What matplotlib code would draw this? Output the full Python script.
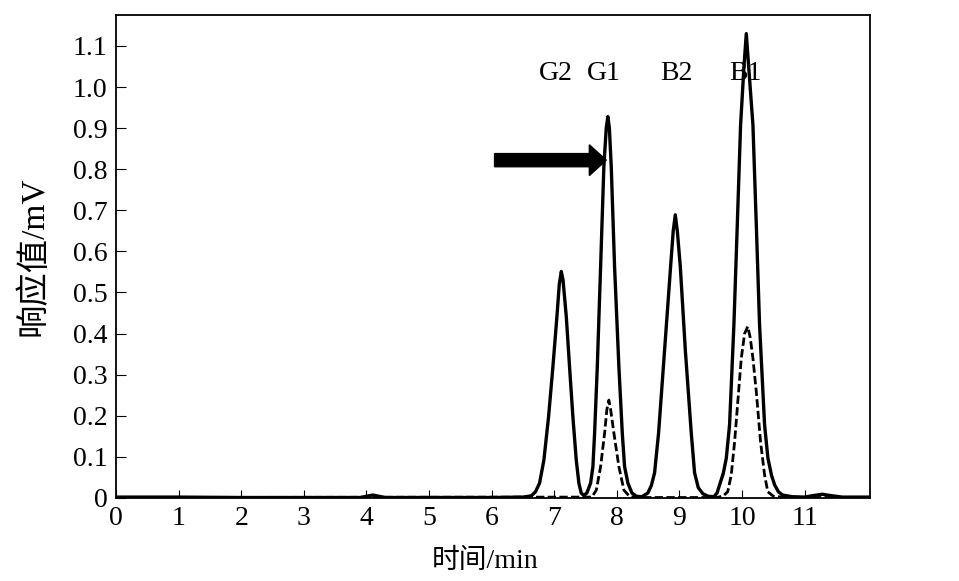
import matplotlib
matplotlib.use("Agg")
import matplotlib.pyplot as plt

plt.rcParams['font.family'] = ['Liberation Serif', 'Noto Sans CJK SC', 'DejaVu Sans']
plt.rcParams['axes.unicode_minus'] = False

# Solid trace (retention time in min, response in mV)
solid_t = [0, 1.0, 2.0, 3.0, 3.9, 4.0, 4.1, 4.2, 4.3, 5.0, 6.0, 6.5,
           6.632, 6.70, 6.765, 6.834, 6.909, 6.978, 7.042, 7.08, 7.112, 7.14, 7.192,
           7.244, 7.297, 7.351, 7.393, 7.43, 7.47,
           7.52, 7.58, 7.617, 7.644, 7.687, 7.74, 7.792, 7.83, 7.856, 7.88, 7.91,
           7.963, 8.032, 8.086, 8.123, 8.176, 8.24, 8.31, 8.40,
           8.495, 8.55, 8.602, 8.666, 8.762, 8.858, 8.90, 8.933, 8.965, 9.013, 9.093,
           9.188, 9.241, 9.30, 9.374, 9.46, 9.55,
           9.60, 9.641, 9.70, 9.748, 9.800, 9.869, 9.923, 9.976, 10.03, 10.067, 10.10,
           10.173, 10.227, 10.279, 10.359, 10.412, 10.47, 10.519, 10.58, 10.647,
           10.8, 11.0, 11.15, 11.28, 11.4, 11.6, 12.04]
solid_v = [0.002, 0.002, 0.001, 0.001, 0.001, 0.004, 0.007, 0.004, 0.001, 0.001, 0.001, 0.002,
           0.005, 0.015, 0.036, 0.092, 0.198, 0.319, 0.441, 0.52, 0.551, 0.53, 0.441,
           0.319, 0.198, 0.092, 0.036, 0.012, 0.006,
           0.012, 0.036, 0.076, 0.158, 0.319, 0.563, 0.806, 0.90, 0.928, 0.90, 0.806,
           0.563, 0.319, 0.158, 0.076, 0.036, 0.012, 0.004, 0.003,
           0.012, 0.03, 0.061, 0.158, 0.36, 0.563, 0.65, 0.689, 0.65, 0.563, 0.36,
           0.158, 0.061, 0.025, 0.010, 0.004, 0.003,
           0.012, 0.032, 0.06, 0.097, 0.178, 0.421, 0.664, 0.908, 1.05, 1.13, 1.06,
           0.908, 0.664, 0.421, 0.178, 0.097, 0.055, 0.032, 0.015, 0.007,
           0.003, 0.002, 0.006, 0.009, 0.006, 0.002, 0.002]

# Dashed trace
dashed_t = [0, 7.60, 7.671, 7.74, 7.804, 7.84, 7.872, 7.90, 7.952, 8.032, 8.112, 8.20, 8.3,
            9.6, 9.70, 9.77, 9.827, 9.88, 9.944, 9.987, 10.04, 10.09, 10.13, 10.173,
            10.227, 10.295, 10.359, 10.41, 10.5, 10.7, 12.04]
dashed_v = [0.001, 0.002, 0.019, 0.076, 0.158, 0.215, 0.238, 0.215, 0.158, 0.076, 0.019, 0.004, 0.001,
            0.001, 0.005, 0.015, 0.056, 0.136, 0.258, 0.34, 0.40, 0.417, 0.39, 0.34,
            0.258, 0.136, 0.056, 0.015, 0.004, 0.001, 0.001]

peak_names = ['G2', 'G1', 'B2', 'B1']
peak_label_t = [7.03, 7.79, 8.95, 10.05]
peak_label_v = [1.034, 1.034, 1.034, 1.034]

x_ticks = list(range(0, 12))
y_ticks = [0, 0.1, 0.2, 0.3, 0.4, 0.5, 0.6, 0.7, 0.8, 0.9, 1.0, 1.1]
y_ticklabels = ['0', '0.1', '0.2', '0.3', '0.4', '0.5', '0.6', '0.7', '0.8', '0.9', '1.0', '1.1']

arrow_tail = (6.046, 0.822)
arrow_tip_t = 7.83

fig = plt.figure(figsize=(9.59, 5.81), dpi=100)
ax = fig.add_axes([0.121, 0.143, 0.786, 0.831])

ax.plot(solid_t, solid_v, color='black', lw=2.4, solid_joinstyle='round')
ax.plot(dashed_t, dashed_v, color='black', lw=2.0, linestyle=(0, (3, 1.2)))

ax.set_xlim(0, 12.04)
ax.set_ylim(0, 1.175)
ax.set_xticks(x_ticks)
ax.set_xticklabels([str(t) for t in x_ticks])
ax.set_yticks(y_ticks)
ax.set_yticklabels(y_ticklabels)

ax.tick_params(axis='both', direction='in', labelsize=20, width=0.8, color='black')
ax.tick_params(axis='y', length=7, pad=6)
ax.tick_params(axis='x', length=6, pad=6)
for s in ax.spines.values():
    s.set_linewidth(1.3)

ax.set_xlabel('时间/min', fontsize=20)
ax.set_ylabel('响应值/mV', fontsize=24)
ax.xaxis.set_label_coords(0.49, -0.105)
ax.yaxis.set_label_coords(-0.088, 0.5)

for name, t, v in zip(peak_names, peak_label_t, peak_label_v):
    ax.text(t, v, name, fontsize=20, ha='center', va='center')

ax.arrow(arrow_tail[0], arrow_tail[1], arrow_tip_t - arrow_tail[0], 0,
         width=0.032, head_width=0.075, head_length=0.27,
         length_includes_head=True, color='black')

fig.savefig('out.png', dpi=100)
